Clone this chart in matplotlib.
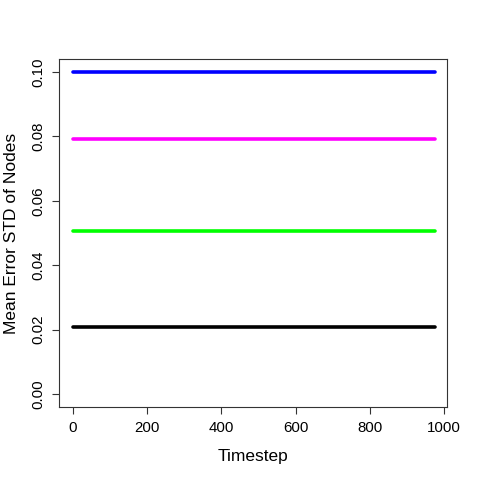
import matplotlib
matplotlib.use("Agg")
from matplotlib import pyplot as plt

plt.rcParams['font.family'] = ['Liberation Sans', 'DejaVu Sans']

# timestep range covered by each series
timestep = [1, 975]
# mean error std per series (flat over time)
blue_std = [0.0999, 0.0999]
magenta_std = [0.0791, 0.0791]
green_std = [0.0505, 0.0505]
black_std = [0.0208, 0.0208]

x_ticks = [0, 200, 400, 600, 800, 1000]
y_ticks = [0.00, 0.02, 0.04, 0.06, 0.08, 0.10]

fig = plt.figure(figsize=(4.8, 4.8), dpi=100)
ax = fig.add_axes([59/480, 73/480, 388/480, 348/480])

for vals, col in [(blue_std, "#0000ff"), (magenta_std, "#ff00ff"),
                  (green_std, "#00ff00"), (black_std, "#000000")]:
    ax.plot(timestep, vals, color=col, linewidth=2.6, solid_capstyle="round")

ax.set_xlim(-38, 1008)
ax.set_ylim(-0.004, 0.104)

ax.set_xticks(x_ticks)
ax.set_xticklabels([str(t) for t in x_ticks])
ax.set_yticks(y_ticks)
ax.set_yticklabels([f"{t:.2f}" for t in y_ticks], rotation=90, va="center")
ax.tick_params(direction="out", length=5, width=0.8, labelsize=10.8, pad=5, color="#333333")

for s in ax.spines.values():
    s.set_linewidth(0.8)
    s.set_color("#333333")

ax.set_xlabel("Timestep", fontsize=12.5, labelpad=10)
ax.set_ylabel("Mean Error STD of Nodes", fontsize=12.5, labelpad=9)

fig.savefig("out.png", dpi=100)
